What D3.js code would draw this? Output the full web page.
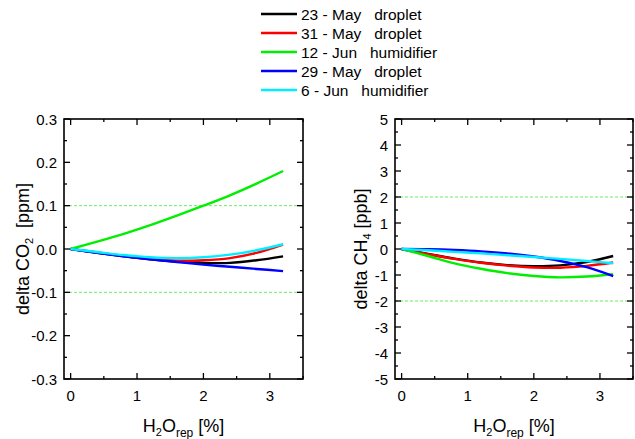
<!DOCTYPE html>
<html><head><meta charset="utf-8">
<script src="https://cdn.jsdelivr.net/npm/d3@7"></script>
<style>
html,body{margin:0;padding:0;background:#fff;}
svg{display:block;font-family:"Liberation Sans",Arial,sans-serif;}
</style></head>
<body><svg id="c" width="635" height="439"></svg>
<script>
const seriesNames = ["23 - May   droplet","31 - May   droplet","12 - Jun   humidifier","29 - May   droplet","6 - Jun   humidifier"];
const seriesColors = ["#000000","#ff0000","#00ee00","#0000ff","#00eeff"];
const xValues = [0,0.4,0.8,1.2,1.6,2.0,2.4,2.8,3.2];
const co2Black = [0,-0.009,-0.017,-0.024,-0.029,-0.032,-0.032,-0.026,-0.017];
const co2Red   = [0,-0.008,-0.016,-0.023,-0.027,-0.026,-0.021,-0.009,0.010];
const co2Green = [0,0.017,0.035,0.055,0.077,0.100,0.124,0.151,0.180];
const co2Blue  = [0,-0.009,-0.017,-0.024,-0.030,-0.036,-0.041,-0.046,-0.051];
const co2Cyan  = [0,-0.007,-0.014,-0.019,-0.021,-0.019,-0.013,-0.003,0.011];
const ch4Black = [0,-0.19,-0.37,-0.52,-0.62,-0.66,-0.63,-0.50,-0.27];
const ch4Red   = [0,-0.20,-0.38,-0.53,-0.64,-0.71,-0.72,-0.65,-0.52];
const ch4Green = [0,-0.27,-0.55,-0.76,-0.93,-1.04,-1.09,-1.06,-0.97];
const ch4Blue  = [0,-0.01,-0.04,-0.09,-0.17,-0.29,-0.46,-0.70,-1.04];
const ch4Cyan  = [0,-0.05,-0.11,-0.17,-0.24,-0.31,-0.38,-0.46,-0.55];
const co2Ticks = [-0.3,-0.2,-0.1,0.0,0.1,0.2,0.3];
const ch4Ticks = [-5,-4,-3,-2,-1,0,1,2,3,4,5];
const xTicks = [0,1,2,3];
const co2Ref = [-0.1,0.1];
const ch4Ref = [-2,2];

const svg = d3.select("#c");
const plotTop = 119, plotBottom = 379;

function panel(opt){
  const g = svg.append("g");
  const x = d3.scaleLinear().domain([-0.1,3.5]).range([opt.left,opt.right]);
  const y = d3.scaleLinear().domain(opt.domain).range([plotBottom,plotTop]);
  opt.ref.forEach(v=>{
    g.append("line").attr("x1",opt.left).attr("x2",opt.right)
     .attr("y1",y(v)).attr("y2",y(v))
     .attr("stroke","#66ee66").attr("stroke-width",1).attr("stroke-dasharray","3,2");
  });
  const line = d3.line().x((d,i)=>x(xValues[i])).y(d=>y(d)).curve(d3.curveCatmullRom.alpha(0.5));
  opt.series.forEach((s,i)=>{
    g.append("path").attr("d",line(s)).attr("fill","none")
     .attr("stroke",seriesColors[i]).attr("stroke-width",2.4);
  });
  const minorX = d3.range(0,3.51,0.5);
  const maj = 6, mn = 3;
  const ax = g.append("g").attr("stroke","#000").attr("stroke-width",1.3);
  minorX.forEach(v=>{
    const L = Math.abs(v-Math.round(v))<1e-6 ? maj : mn;
    ax.append("line").attr("x1",x(v)).attr("x2",x(v)).attr("y1",plotBottom).attr("y2",plotBottom-L);
    ax.append("line").attr("x1",x(v)).attr("x2",x(v)).attr("y1",plotTop).attr("y2",plotTop+L);
  });
  const step = opt.minorStep;
  const yMinor = d3.range(opt.domain[0],opt.domain[1]+step/2,step);
  yMinor.forEach((v,i)=>{
    const L = i%2===0 ? maj : mn;
    ax.append("line").attr("x1",opt.left).attr("x2",opt.left+L).attr("y1",y(v)).attr("y2",y(v));
    ax.append("line").attr("x1",opt.right).attr("x2",opt.right-L).attr("y1",y(v)).attr("y2",y(v));
  });
  g.append("rect").attr("x",opt.left).attr("y",plotTop).attr("width",opt.right-opt.left).attr("height",plotBottom-plotTop)
   .attr("fill","none").attr("stroke","#000").attr("stroke-width",1.6);
  xTicks.forEach(v=>{
    g.append("text").attr("x",x(v)).attr("y",401).attr("text-anchor","middle")
     .attr("font-size",15).text(v);
  });
  opt.ticks.forEach(v=>{
    g.append("text").attr("x",opt.left-7).attr("y",y(v)+5.5).attr("text-anchor","end")
     .attr("font-size",15).text(opt.fmt(v).replace("\u2212","-"));
  });
  const cx = (opt.left+opt.right)/2;
  const xt = g.append("text").attr("x",cx).attr("y",432).attr("text-anchor","middle").attr("font-size",18);
  xt.append("tspan").text("H");
  xt.append("tspan").attr("font-size",11).attr("dy",4).text("2");
  xt.append("tspan").attr("dy",-4).text("O");
  xt.append("tspan").attr("font-size",12).attr("dy",5).text("rep");
  xt.append("tspan").attr("dy",-5).style("white-space","pre").text(" [%]");
  const yt = g.append("text").attr("transform",`translate(${opt.titleX},${(plotTop+plotBottom)/2}) rotate(-90)`)
    .attr("text-anchor","middle").attr("font-size",18).style("white-space","pre");
  yt.append("tspan").text(opt.gas1);
  yt.append("tspan").attr("font-size",11).attr("dy",4).text(opt.sub);
  yt.append("tspan").attr("dy",-4).text(opt.unit);
}

panel({left:64,right:303,domain:[-0.3,0.3],minorStep:0.05,ticks:co2Ticks,fmt:d3.format(".1f"),
  ref:co2Ref,series:[co2Black,co2Red,co2Green,co2Blue,co2Cyan],titleX:29,
  gas1:"delta CO",sub:"2",unit:"  [ppm]"});
panel({left:395,right:633,domain:[-5,5],minorStep:0.5,ticks:ch4Ticks,fmt:d3.format("d"),
  ref:ch4Ref,series:[ch4Black,ch4Red,ch4Green,ch4Blue,ch4Cyan],titleX:367,
  gas1:"delta CH",sub:"4",unit:" [ppb]"});

const lg = svg.append("g");
seriesNames.forEach((n,i)=>{
  const yy = 14 + i*19;
  lg.append("line").attr("x1",261).attr("x2",297).attr("y1",yy).attr("y2",yy)
    .attr("stroke",seriesColors[i]).attr("stroke-width",2.4);
  lg.append("text").attr("x",301).attr("y",yy+5.5).attr("font-size",15.5)
    .style("white-space","pre").text(n);
});
</script></body></html>
